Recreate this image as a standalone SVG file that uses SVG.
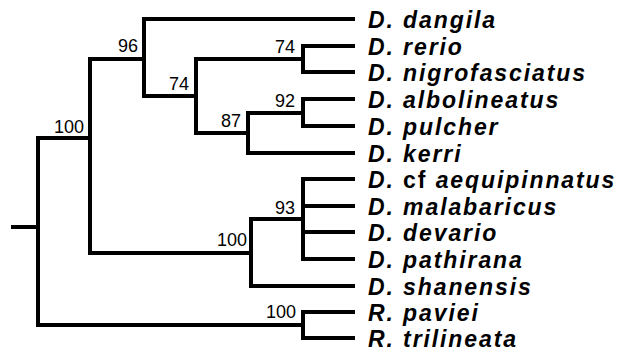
<svg xmlns="http://www.w3.org/2000/svg" width="629" height="353" viewBox="0 0 629 353">
  <style>
    .br { fill: none; stroke: #000; stroke-width: 4; stroke-linejoin: miter; stroke-linecap: square; }
    .taxon { font-family: "Liberation Sans", Arial, sans-serif; font-size: 23px; font-weight: bold; font-style: italic; letter-spacing: 1.9px; fill: #000; }
    .taxon .up { font-style: normal; }
    .bs { font-family: "Liberation Sans", Arial, sans-serif; font-size: 18px; fill: #000; text-anchor: end; }
  </style>
  <rect width="629" height="353" fill="#fff"/>

  <!-- tree branches -->
  <g id="connectors">
    <path class="br" d="M13,227 H38"/>
    <path class="br" d="M90,138 H38 V325 H303"/>
    <path class="br" d="M144,59 H90 V253 H251"/>
    <path class="br" d="M353,19 H144 V96 H196"/>
    <path class="br" d="M303,59 H196 V133 H248"/>
    <path class="br" d="M353,46 H303 V72 H353"/>
    <path class="br" d="M303,113 H248 V153 H353"/>
    <path class="br" d="M353,99 H303 V126 H353"/>
    <path class="br" d="M303,219 H251 V286 H353"/>
    <path class="br" d="M353,179 H303 V259 H353"/>
    <path class="br" d="M303,206 H353 M303,232 H353"/>
    <path class="br" d="M353,312 H303 V338 H353"/>
  </g>

  <!-- support values -->
  <g id="n-root-ingroup"><text class="bs" x="84" y="133">100</text></g>
  <g id="n-96"><text class="bs" x="138" y="52">96</text></g>
  <g id="n-74a"><text class="bs" x="189" y="90">74</text></g>
  <g id="n-74b"><text class="bs" x="295" y="53">74</text></g>
  <g id="n-87"><text class="bs" x="241" y="127">87</text></g>
  <g id="n-92"><text class="bs" x="295" y="107">92</text></g>
  <g id="n-100b"><text class="bs" x="247" y="246">100</text></g>
  <g id="n-93"><text class="bs" x="295" y="214">93</text></g>
  <g id="n-100c"><text class="bs" x="296" y="318">100</text></g>

  <!-- taxa -->
  <g id="t-dangila"><text class="taxon" x="368" y="28">D. dangila</text></g>
  <g id="t-rerio"><text class="taxon" x="368" y="55">D. rerio</text></g>
  <g id="t-nigrofasciatus"><text class="taxon" x="368" y="81">D. nigrofasciatus</text></g>
  <g id="t-albolineatus"><text class="taxon" x="368" y="108">D. albolineatus</text></g>
  <g id="t-pulcher"><text class="taxon" x="368" y="135">D. pulcher</text></g>
  <g id="t-kerri"><text class="taxon" x="368" y="162">D. kerri</text></g>
  <g id="t-aequipinnatus"><text class="taxon" x="368" y="188">D. <tspan class="up">cf</tspan> aequipinnatus</text></g>
  <g id="t-malabaricus"><text class="taxon" x="368" y="215">D. malabaricus</text></g>
  <g id="t-devario"><text class="taxon" x="368" y="241">D. devario</text></g>
  <g id="t-pathirana"><text class="taxon" x="368" y="268">D. pathirana</text></g>
  <g id="t-shanensis"><text class="taxon" x="368" y="295">D. shanensis</text></g>
  <g id="t-paviei"><text class="taxon" x="368" y="321">R. paviei</text></g>
  <g id="t-trilineata"><text class="taxon" x="368" y="347">R. trilineata</text></g>
</svg>
